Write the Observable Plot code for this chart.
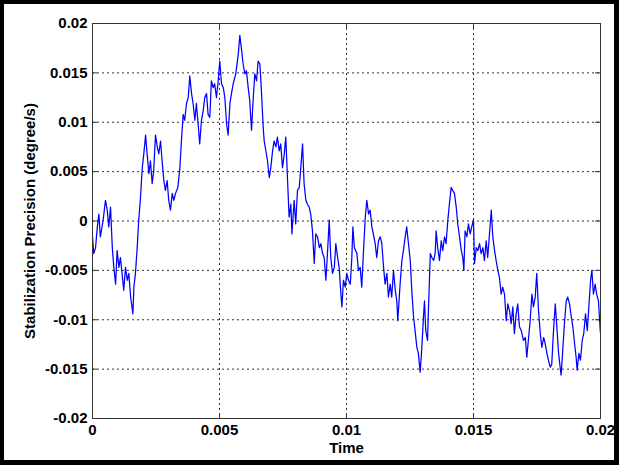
<!DOCTYPE html>
<html>
<head>
<meta charset="utf-8">
<script src="https://cdn.jsdelivr.net/npm/d3@7"></script>
<script src="https://cdn.jsdelivr.net/npm/@observablehq/plot@0.6"></script>
<style>
  html, body { margin: 0; padding: 0; background: #fff; }
  #wrap { position: relative; width: 619px; height: 465px; overflow: hidden; }
  #frame { position: absolute; left: 0; top: 0; width: 619px; height: 465px; box-sizing: border-box;
           border-style: solid; border-color: #000; border-width: 4px 5px 5px 4px; pointer-events: none; }
</style>
</head>
<body>
<div id="wrap"><div id="frame"></div></div>
<script>
// ---- data ----
const time = [
  0, 0.00005, 0.00012, 0.00019, 0.00025, 0.00031, 0.00042, 0.00051, 0.00058, 0.00064,
  0.00071, 0.00078, 0.00084, 0.00091, 0.00097, 0.00104, 0.0011, 0.00123, 0.0013, 0.00137,
  0.00143, 0.0015, 0.00159, 0.00163, 0.00169, 0.00176, 0.00182, 0.00189, 0.00196, 0.00202,
  0.00209, 0.00215, 0.00222, 0.00228, 0.00235, 0.00241, 0.00248, 0.00255, 0.00261, 0.00268,
  0.00274, 0.00281, 0.00287, 0.00294, 0.003, 0.00307, 0.00314, 0.0032, 0.00327, 0.00336,
  0.00344, 0.0035, 0.00357, 0.00363, 0.0037, 0.00377, 0.00383, 0.0039, 0.00396, 0.00403,
  0.00409, 0.00416, 0.00422, 0.00429, 0.00436, 0.00442, 0.00449, 0.00455, 0.00462, 0.00468,
  0.00475, 0.00481, 0.00488, 0.00495, 0.00501, 0.00508, 0.00515, 0.00521, 0.00528, 0.00534,
  0.00541, 0.00547, 0.00554, 0.00564, 0.00574, 0.0058, 0.00587, 0.00593, 0.006, 0.00606,
  0.00613, 0.00619, 0.00626, 0.00633, 0.00639, 0.00646, 0.00652, 0.00659, 0.00665, 0.00672,
  0.00676, 0.00689, 0.00696, 0.00702, 0.00709, 0.00715, 0.00722, 0.00728, 0.00735, 0.00741,
  0.00748, 0.00755, 0.00761, 0.00768, 0.00774, 0.00781, 0.00785, 0.00794, 0.008, 0.00807,
  0.00814, 0.0082, 0.00827, 0.00833, 0.0084, 0.00846, 0.00853, 0.00859, 0.00866, 0.00873,
  0.00879, 0.00886, 0.00893, 0.00899, 0.00906, 0.00912, 0.00919, 0.00925, 0.00932, 0.00938,
  0.00945, 0.00952, 0.00958, 0.00965, 0.00971, 0.00978, 0.00982, 0.00988, 0.00995, 0.01001,
  0.01008, 0.01015, 0.01021, 0.01025, 0.01031, 0.01041, 0.01047, 0.01054, 0.0106, 0.01067,
  0.01074, 0.0108, 0.01087, 0.01093, 0.011, 0.01113, 0.01119, 0.01126, 0.01133, 0.01139,
  0.01146, 0.01152, 0.01159, 0.01165, 0.01172, 0.01178, 0.01185, 0.01192, 0.01198, 0.01202,
  0.01211, 0.01218, 0.01224, 0.01231, 0.01237, 0.01244, 0.01251, 0.01257, 0.01264, 0.0127,
  0.01277, 0.01283, 0.0129, 0.01296, 0.01303, 0.01307, 0.01312, 0.01319, 0.01323, 0.0133,
  0.01336, 0.01343, 0.01349, 0.01353, 0.01359, 0.01366, 0.01373, 0.01379, 0.01386, 0.01392,
  0.01399, 0.01405, 0.01412, 0.01418, 0.01425, 0.01432, 0.01438, 0.01445, 0.01452, 0.01458,
  0.01462, 0.01467, 0.01474, 0.0148, 0.01487, 0.01493, 0.015, 0.01504, 0.01511, 0.01517,
  0.01524, 0.0153, 0.01537, 0.01543, 0.0155, 0.01556, 0.01563, 0.0157, 0.01576, 0.01583,
  0.01589, 0.01596, 0.01602, 0.01609, 0.01615, 0.01622, 0.01629, 0.01635, 0.01642, 0.01648,
  0.01655, 0.01661, 0.01668, 0.01674, 0.01681, 0.01688, 0.01697, 0.01704, 0.0171, 0.01717,
  0.01723, 0.0173, 0.01736, 0.01743, 0.01749, 0.01756, 0.01763, 0.01769, 0.01776, 0.01782,
  0.01789, 0.01795, 0.01802, 0.01808, 0.01815, 0.01822, 0.01828, 0.01835, 0.01841, 0.01845,
  0.01852, 0.01858, 0.01865, 0.01871, 0.01878, 0.01885, 0.01891, 0.01898, 0.01904, 0.01908,
  0.01915, 0.01921, 0.01928, 0.01934, 0.01941, 0.01948, 0.01954, 0.01961, 0.01966, 0.01972,
  0.01979, 0.01985, 0.01992, 0.01999, 0.02
];
const precision = [
  -0.0016, -0.0033, -0.0027, -0.0006, 0.0007, -0.0016, 0.0001, 0.0021, 0.0011, -0.0006,
  0.0014, -0.0027, -0.0047, -0.0064, -0.0030, -0.0047, -0.0037, -0.0070, -0.0047, -0.0060,
  -0.0053, -0.0077, -0.0094, -0.0067, -0.0053, -0.0027, 0.0001, 0.0024, 0.0054, 0.0068,
  0.0087, 0.0068, 0.0048, 0.0061, 0.0038, 0.0051, 0.0087, 0.0075, 0.0068, 0.0081,
  0.0061, 0.0041, 0.0031, 0.0041, 0.0021, 0.0011, 0.0028, 0.0021, 0.0028, 0.0034,
  0.0054, 0.0081, 0.0108, 0.0102, 0.0119, 0.0125, 0.0147, 0.0129, 0.0119, 0.0102,
  0.0119, 0.0098, 0.0078, 0.0102, 0.0112, 0.0125, 0.0129, 0.0108, 0.0105, 0.0142,
  0.0135, 0.0139, 0.0125, 0.0142, 0.0162, 0.0139, 0.0135, 0.0125, 0.0098, 0.0087,
  0.0119, 0.0129, 0.0139, 0.0149, 0.0169, 0.0188, 0.0173, 0.0159, 0.0149, 0.0152,
  0.0135, 0.0122, 0.0092, 0.0125, 0.0149, 0.0142, 0.0162, 0.0159, 0.0132, 0.0095,
  0.0081, 0.0061, 0.0044, 0.0054, 0.0071, 0.0081, 0.0075, 0.0085, 0.0071, 0.0078,
  0.0054, 0.0068, 0.0085, 0.0041, 0.0004, 0.0017, -0.0013, 0.0021, -0.0003, 0.0031,
  0.0034, 0.0054, 0.0078, 0.0038, 0.0021, 0.0017, 0.0014, 0.0007, -0.0010, -0.0043,
  -0.0013, -0.0016, -0.0027, -0.0023, -0.0033, -0.0037, -0.0060, -0.0033, 0.0001, -0.0037,
  -0.0053, -0.0047, -0.0023, -0.0037, -0.0047, -0.0074, -0.0087, -0.0060, -0.0067, -0.0053,
  -0.0060, -0.0064, -0.0037, -0.0006, -0.0027, -0.0033, -0.0050, -0.0047, -0.0067, -0.0030,
  0.0004, 0.0021, 0.0007, 0.0011, -0.0006, -0.0023, -0.0037, -0.0020, -0.0016, -0.0023,
  -0.0047, -0.0064, -0.0053, -0.0077, -0.0064, -0.0077, -0.0050, -0.0070, -0.0081, -0.0101,
  -0.0064, -0.0040, -0.0030, -0.0016, -0.0006, -0.0023, -0.0040, -0.0070, -0.0097, -0.0111,
  -0.0128, -0.0134, -0.0153, -0.0131, -0.0097, -0.0081, -0.0111, -0.0121, -0.0087, -0.0033,
  -0.0037, -0.0040, -0.0033, -0.0010, -0.0027, -0.0040, -0.0020, -0.0030, -0.0016, -0.0023,
  0.0001, 0.0017, 0.0034, 0.0031, 0.0028, 0.0014, -0.0003, -0.0016, -0.0030, -0.0037,
  -0.0050, -0.0010, -0.0016, -0.0003, -0.0013, -0.0006, 0.0001, -0.0043, -0.0027, -0.0030,
  -0.0023, -0.0033, -0.0027, -0.0040, -0.0020, -0.0037, -0.0013, 0.0011, -0.0016, -0.0030,
  -0.0040, -0.0050, -0.0057, -0.0074, -0.0067, -0.0074, -0.0101, -0.0084, -0.0091, -0.0104,
  -0.0087, -0.0114, -0.0094, -0.0084, -0.0107, -0.0111, -0.0121, -0.0118, -0.0138, -0.0118,
  -0.0101, -0.0074, -0.0087, -0.0077, -0.0053, -0.0091, -0.0114, -0.0128, -0.0118, -0.0124,
  -0.0134, -0.0141, -0.0148, -0.0145, -0.0111, -0.0084, -0.0107, -0.0134, -0.0148, -0.0156,
  -0.0128, -0.0104, -0.0081, -0.0077, -0.0084, -0.0097, -0.0107, -0.0124, -0.0138, -0.0151,
  -0.0134, -0.0141, -0.0121, -0.0114, -0.0094, -0.0111, -0.0087, -0.0060, -0.0050, -0.0074,
  -0.0064, -0.0074, -0.0081, -0.0111, -0.0113
];
const xTicks = [0, 0.005, 0.01, 0.015, 0.02];
const yTicks = [-0.02, -0.015, -0.01, -0.005, 0, 0.005, 0.01, 0.015, 0.02];
const xLabel = "Time";
const yLabel = "Stabilization Precision (degree/s)";

// ---- build ----
const data = time.map((t, i) => ({t, v: precision[i]}));
const fmt = d => String(Number(d.toPrecision(6)));
const xInner = xTicks.slice(1, -1);
const yInner = yTicks.slice(1, -1);
const grid = {stroke: "#000", strokeOpacity: 0.8, strokeWidth: 1, strokeDasharray: "2,3"};

const chart = Plot.plot({
  width: 619,
  height: 465,
  marginLeft: 92,
  marginRight: 19,
  marginTop: 23,
  marginBottom: 47,
  style: {fontFamily: "'Liberation Sans', Arial, sans-serif", fontWeight: "bold", fontSize: "15px", color: "#000", background: "transparent"},
  x: {domain: [0, 0.02]},
  y: {domain: [-0.02, 0.02]},
  marks: [
    Plot.gridX(xInner, grid),
    Plot.gridY(yInner, grid),
    Plot.tickY(yTicks, {y: d => d, stroke: "#333", insetRight: 503}),
    Plot.tickY(yTicks, {y: d => d, stroke: "#333", insetLeft: 503}),
    Plot.tickX(xTicks, {x: d => d, stroke: "#333", insetTop: 390}),
    Plot.tickX(xTicks, {x: d => d, stroke: "#333", insetBottom: 390}),
    Plot.line(data, {x: "t", y: "v", stroke: "#0000ff", strokeWidth: 1.25}),
    Plot.frame({stroke: "#333", strokeWidth: 1}),
    Plot.axisY(yTicks, {tickSize: 0, tickPadding: 5, tickFormat: fmt, label: yLabel,
      labelAnchor: "center", labelArrow: "none", labelOffset: 68}),
    Plot.axisX(xTicks, {tickSize: 0, tickPadding: 6, tickFormat: fmt, label: xLabel,
      labelAnchor: "center", labelArrow: "none", labelOffset: 34})
  ]
});
document.getElementById("wrap").prepend(chart);
</script>
</body>
</html>
